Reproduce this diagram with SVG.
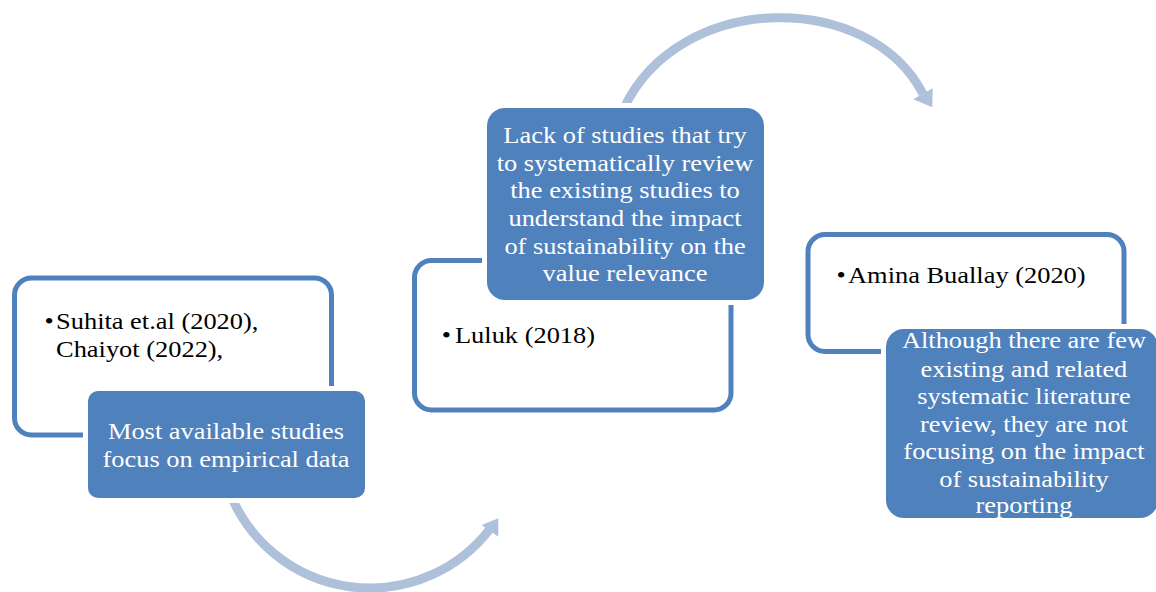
<svg xmlns="http://www.w3.org/2000/svg" width="1156" height="592" viewBox="0 0 1156 592">
<style>
.outline{fill:#fff;stroke:#4f81bd;stroke-width:5}
.blue{fill:#4f81bd;stroke:#fff;stroke-width:10;paint-order:stroke}
.arc{fill:none;stroke:#afc0db;stroke-width:9}
.head{fill:#afc0db}
text{font-family:"Liberation Serif","Times New Roman",serif;font-size:23.8px}
.dark{fill:#000}
.light{fill:#fff;text-anchor:middle}
</style>
<rect width="1156" height="592" fill="#fff"/>
<g id="connectors">
  <path class="arc" d="M230.7,495 A151,151 0 0 0 489.5,529.5"/>
  <polygon class="head" points="481.7,525 498.3,518.3 498.3,536.7"/>
  <path class="arc" d="M624,108 C680,-10 870,-10 923,94"/>
  <polygon class="head" points="913.3,99.3 932.7,88.3 932.3,107.3"/>
</g>
<g id="node1">
  <rect class="outline" x="14.5" y="278" width="317" height="157" rx="17"/>
  <rect class="blue" x="88" y="391" width="277" height="107" rx="10"/>
  <g transform="scale(1.11 1)">
    <text class="dark" y="329"><tspan x="40">•</tspan><tspan x="50.5">Suhita et.al (2020),</tspan></text>
    <text class="dark" x="50.5" y="357">Chaiyot (2022),</text>
    <text class="light" x="203.6" y="439">Most available studies</text>
    <text class="light" x="203.6" y="467">focus on empirical data</text>
  </g>
</g>
<g id="node2">
  <rect class="outline" x="414.5" y="260.5" width="316.5" height="149.5" rx="17"/>
  <rect class="blue" x="487" y="108" width="277" height="192" rx="18"/>
  <g transform="scale(1.11 1)">
    <text class="dark" y="343"><tspan x="398">•</tspan><tspan x="409.9">Luluk (2018)</tspan></text>
    <text class="light" x="563.1" y="143">Lack of studies that try</text>
    <text class="light" x="563.1" y="171">to systematically review</text>
    <text class="light" x="563.1" y="198">the existing studies to</text>
    <text class="light" x="563.1" y="226">understand the impact</text>
    <text class="light" x="563.1" y="254">of sustainability on the</text>
    <text class="light" x="563.1" y="281">value relevance</text>
  </g>
</g>
<g id="node3">
  <rect class="outline" x="808" y="234.5" width="316" height="117" rx="17"/>
  <rect class="blue" x="886" y="329" width="272" height="189" rx="18"/>
  <g transform="scale(1.11 1)">
    <text class="dark" y="283"><tspan x="753.5">•</tspan><tspan x="764">Amina Buallay (2020)</tspan></text>
    <text class="light" x="922.5" y="348">Although there are few</text>
    <text class="light" x="922.5" y="377">existing and related</text>
    <text class="light" x="922.5" y="404">systematic literature</text>
    <text class="light" x="922.5" y="432">review, they are not</text>
    <text class="light" x="922.5" y="459">focusing on the impact</text>
    <text class="light" x="922.5" y="487">of sustainability</text>
    <text class="light" x="922.5" y="513">reporting</text>
  </g>
</g>
</svg>
